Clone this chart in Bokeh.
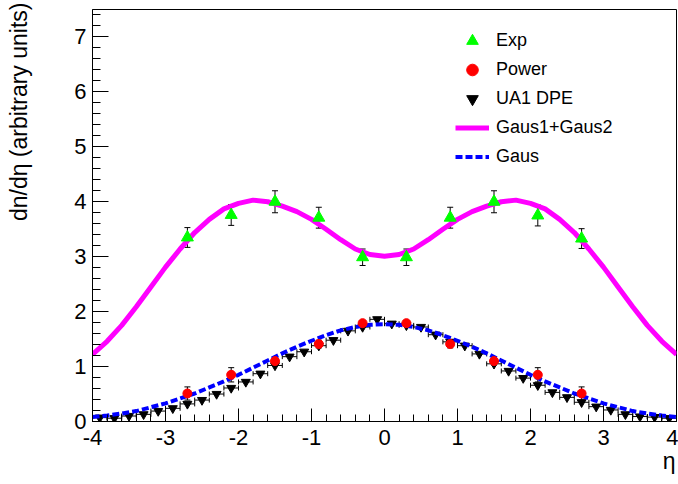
from bokeh.plotting import figure
from bokeh.models import (ColumnDataSource, Whisker, TeeHead, Legend, LegendItem, Title,
                          SingleIntervalTicker, Range1d)
from bokeh.embed import file_html
from bokeh.resources import INLINE

# ---- data ----
eta_pts = [-2.7, -2.1, -1.5, -0.9, -0.3, 0.3, 0.9, 1.5, 2.1, 2.7]
exp_vals = [3.35, 3.76, 4.00, 3.71, 2.99, 2.99, 3.71, 4.00, 3.75, 3.33]
exp_err = [0.18, 0.19, 0.20, 0.19, 0.15, 0.15, 0.19, 0.20, 0.19, 0.18]
power_vals = [0.51, 0.85, 1.10, 1.41, 1.79, 1.79, 1.41, 1.10, 0.85, 0.51]
power_err = [0.12, 0.13, 0.07, 0.07, 0.05, 0.05, 0.07, 0.07, 0.13, 0.12]

ua1_eta = [-3.9, -3.7, -3.5, -3.3, -3.1, -2.9, -2.7, -2.5, -2.3, -2.1,
           -1.9, -1.7, -1.5, -1.3, -1.1, -0.9, -0.7, -0.5, -0.3, -0.1,
           0.1, 0.3, 0.5, 0.7, 0.9, 1.1, 1.3, 1.5, 1.7, 1.9,
           2.1, 2.3, 2.5, 2.7, 2.9, 3.1, 3.3, 3.5, 3.7, 3.9]
ua1_vals = [0.07, 0.06, 0.10, 0.13, 0.19, 0.24, 0.32, 0.39, 0.50, 0.61,
            0.72, 0.87, 1.02, 1.18, 1.27, 1.38, 1.48, 1.65, 1.72, 1.86,
            1.78, 1.75, 1.72, 1.58, 1.45, 1.38, 1.23, 1.05, 0.92, 0.79,
            0.66, 0.53, 0.44, 0.35, 0.27, 0.21, 0.13, 0.09, 0.08, 0.06]
ua1_xerr = [0.1] * 40

curve_eta = [-4.0, -3.8, -3.6, -3.4, -3.2, -3.0, -2.8, -2.6, -2.4, -2.2,
             -2.0, -1.8, -1.6, -1.4, -1.2, -1.0, -0.8, -0.6, -0.4, -0.2,
             0.0, 0.2, 0.4, 0.6, 0.8, 1.0, 1.2, 1.4, 1.6, 1.8,
             2.0, 2.2, 2.4, 2.6, 2.8, 3.0, 3.2, 3.4, 3.6, 3.8, 4.0]
gaus12_vals = [1.22, 1.46, 1.75, 2.09, 2.45, 2.81, 3.14, 3.44, 3.68, 3.87,
               3.97, 4.03, 4.00, 3.92, 3.82, 3.68, 3.50, 3.31, 3.14, 3.04,
               3.01, 3.04, 3.14, 3.31, 3.50, 3.68, 3.82, 3.92, 4.00, 4.03,
               3.97, 3.87, 3.68, 3.44, 3.14, 2.81, 2.45, 2.09, 1.75, 1.46, 1.22]
gaus_vals = [0.08, 0.11, 0.145, 0.19, 0.26, 0.33, 0.42, 0.51, 0.62, 0.73,
             0.85, 0.98, 1.11, 1.24, 1.36, 1.47, 1.57, 1.66, 1.72, 1.76,
             1.77, 1.76, 1.72, 1.66, 1.57, 1.47, 1.36, 1.24, 1.11, 0.98,
             0.85, 0.73, 0.62, 0.51, 0.42, 0.33, 0.26, 0.19, 0.145, 0.11, 0.08]

x_tick_labels = {-4: "-4", -3: "-3", -2: "-2", -1: "-1", 0: "0", 1: "1", 2: "2", 3: "3", 4: "4"}
legend_labels = ["Exp", "Power", "UA1 DPE", "Gaus1+Gaus2", "Gaus"]
y_title = "dn/d\u03b7 (arbitrary units)"
x_title = "\u03b7"

FONT = "Liberation Sans"

src_exp = ColumnDataSource(dict(x=eta_pts, y=exp_vals,
                                lo=[v - e for v, e in zip(exp_vals, exp_err)],
                                hi=[v + e for v, e in zip(exp_vals, exp_err)]))
src_pow = ColumnDataSource(dict(x=eta_pts, y=power_vals,
                                lo=[v - e for v, e in zip(power_vals, power_err)],
                                hi=[v + e for v, e in zip(power_vals, power_err)]))
src_ua1 = ColumnDataSource(dict(x=ua1_eta, y=ua1_vals,
                                xlo=[x - e for x, e in zip(ua1_eta, ua1_xerr)],
                                xhi=[x + e for x, e in zip(ua1_eta, ua1_xerr)]))
src_g12 = ColumnDataSource(dict(x=curve_eta, y=gaus12_vals))
src_g = ColumnDataSource(dict(x=curve_eta, y=gaus_vals))

p = figure(width=678, height=484, x_range=Range1d(-4, 4), y_range=Range1d(0, 7.5),
           output_backend="svg", toolbar_location=None,
           min_border_left=92, min_border_right=2, min_border_top=9, min_border_bottom=63)
p.xgrid.visible = False
p.ygrid.visible = False
p.outline_line_color = "black"
p.outline_line_alpha = 1.0
p.background_fill_color = "white"
p.border_fill_color = "white"

p.xaxis.ticker = SingleIntervalTicker(interval=1, num_minor_ticks=5)
p.yaxis.ticker = SingleIntervalTicker(interval=1, num_minor_ticks=5)
p.xaxis.major_label_overrides = x_tick_labels
for ax in (p.xaxis, p.yaxis):
    ax.axis_line_color = "black"
    ax.major_tick_line_color = "black"
    ax.minor_tick_line_color = "black"
    ax.major_tick_out = 0
    ax.minor_tick_out = 0
    ax.major_label_text_font = FONT
    ax.major_label_text_font_size = "22px"
    ax.major_label_text_color = "black"
p.xaxis.major_tick_in = 13
p.xaxis.minor_tick_in = 7
p.yaxis.major_tick_in = 16
p.yaxis.minor_tick_in = 8
p.xaxis.major_label_standoff = 8
p.yaxis.major_label_standoff = 6
# blank axis label used only as spacing between tick labels and the title
p.yaxis.axis_label = "\u00a0"
p.yaxis.axis_label_text_font_size = "10px"
p.yaxis.axis_label_standoff = 24

# curves and points
r_g12 = p.line("x", "y", source=src_g12, line_color="#ff00ff", line_width=5)

p.add_layout(Whisker(source=src_ua1, base="y", lower="xlo", upper="xhi", dimension="width",
                     line_color="black", line_width=1,
                     upper_head=TeeHead(size=5, line_color="black", line_width=1),
                     lower_head=TeeHead(size=5, line_color="black", line_width=1)))
r_ua1 = p.scatter("x", "y", source=src_ua1, marker="inverted_triangle", size=9,
                  fill_color="black", line_color="black")

r_g = p.line("x", "y", source=src_g, line_color="#0000ff", line_width=4, line_dash="7 3")

p.add_layout(Whisker(source=src_pow, base="x", lower="lo", upper="hi",
                     line_color="black", line_width=1,
                     upper_head=TeeHead(size=6, line_color="black", line_width=1),
                     lower_head=TeeHead(size=6, line_color="black", line_width=1)))
r_pow = p.scatter("x", "y", source=src_pow, marker="circle", size=9,
                  fill_color="#ff0000", line_color="#ff0000")

p.add_layout(Whisker(source=src_exp, base="x", lower="lo", upper="hi",
                     line_color="black", line_width=1,
                     upper_head=TeeHead(size=6, line_color="black", line_width=1),
                     lower_head=TeeHead(size=6, line_color="black", line_width=1)))
r_exp = p.scatter("x", "y", source=src_exp, marker="triangle", size=12,
                  fill_color="#00ff00", line_color="#00ff00")

legend = Legend(items=[
    LegendItem(label=legend_labels[0], renderers=[r_exp]),
    LegendItem(label=legend_labels[1], renderers=[r_pow]),
    LegendItem(label=legend_labels[2], renderers=[r_ua1]),
    LegendItem(label=legend_labels[3], renderers=[r_g12]),
    LegendItem(label=legend_labels[4], renderers=[r_g]),
], location=(363, 250))
legend.glyph_width = 34
legend.glyph_height = 29
legend.label_height = 29
legend.spacing = 0
legend.padding = 0
legend.margin = 0
legend.label_standoff = 7
legend.label_text_font = FONT
legend.label_text_font_size = "18px"
legend.label_text_color = "black"
legend.border_line_alpha = 0
legend.background_fill_alpha = 0
p.add_layout(legend)

p.add_layout(Title(text=y_title, align="right", vertical_align="top", standoff=0, offset=-7,
                   text_font=FONT, text_font_size="23px", text_font_style="normal",
                   text_color="black"), "left")
p.add_layout(Title(text=x_title, align="right", vertical_align="top", standoff=0, offset=1,
                   text_font=FONT, text_font_size="23px", text_font_style="normal",
                   text_color="black"), "below")

open("out.html", "w").write(file_html(p, INLINE))
